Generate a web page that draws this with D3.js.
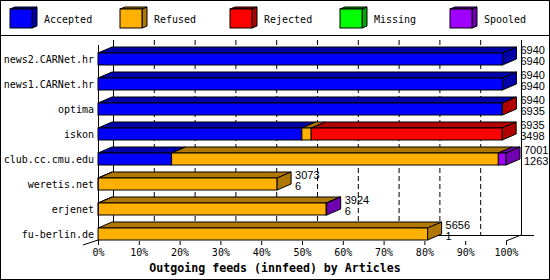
<!DOCTYPE html>
<html>
<head>
<meta charset="utf-8">
<script src="https://cdn.jsdelivr.net/npm/d3@7"></script>
<style>
  body { margin: 0; background: #fff; }
  svg { display: block; }
  text { font-family: "DejaVu Sans Mono", monospace; font-size: 10px; fill: #000; }
  .val { font-family: "Liberation Sans", Arial, sans-serif; font-size: 11px; }
  .title { font-weight: bold; font-size: 11.6px; }
</style>
</head>
<body>
<script>
// feeds, top to bottom
var feeds = ["news2.CARNet.hr", "news1.CARNet.hr", "optima", "iskon",
             "club.cc.cmu.edu", "weretis.net", "erjenet", "fu-berlin.de"];
var offered  = [6940, 6940, 6940, 6935, 7001, 3073, 3924, 5656];
var accepted = [6940, 6940, 6935, 3498, 1263, 6, 6, 1];
var refused  = [0, 0, 0, 160, 5606, 3067, 3910, 5655];
var rejected = [0, 0, 5, 3277, 0, 0, 0, 0];
var missing  = [0, 0, 0, 0, 0, 0, 0, 0];
var spooled  = [0, 0, 0, 0, 132, 0, 8, 0];
var seriesNames = ["Accepted", "Refused", "Rejected", "Missing", "Spooled"];
var tickValues = [0, 10, 20, 30, 40, 50, 60, 70, 80, 90, 100];

var colors = ["#0000ff", "#ffb000", "#ff0000", "#00ff00", "#a000ff"];
var darks  = ["#0000a8", "#b07800", "#b00000", "#00a800", "#7000b0"];

var W = 550, H = 280;
var svg = d3.select("body").append("svg").attr("width", W).attr("height", H);

// frame + legend box
svg.append("rect").attr("x", 0.5).attr("y", 0.5).attr("width", W - 1).attr("height", H - 1)
  .attr("fill", "#fff").attr("stroke", "#000");
svg.append("line").attr("x1", 0).attr("x2", W).attr("y1", 35.5).attr("y2", 35.5).attr("stroke", "#000");

// legend cubes
seriesNames.forEach(function(name, i) {
  var lx = 10 + i * 110, ly = 9, w = 22, h = 19, dx = 5, dy = 2;
  var g = svg.append("g");
  g.append("path")
    .attr("d", "M" + (lx + w) + "," + ly + "L" + (lx + w + dx) + "," + (ly - dy) +
      "L" + (lx + w + dx) + "," + (ly + h - dy) + "L" + (lx + w) + "," + (ly + h) + "Z")
    .attr("fill", darks[i]).attr("stroke", "#000");
  g.append("path")
    .attr("d", "M" + lx + "," + ly + "L" + (lx + dx) + "," + (ly - dy) +
      "L" + (lx + w + dx) + "," + (ly - dy) + "L" + (lx + w) + "," + ly + "Z")
    .attr("fill", darks[i]).attr("stroke", "#000");
  g.append("rect").attr("x", lx).attr("y", ly).attr("width", w).attr("height", h)
    .attr("fill", colors[i]).attr("stroke", "#000");
  g.append("text").attr("x", lx + 34).attr("y", 23).text(name);
});

var maxOffered = d3.max(offered);
var x = d3.scaleLinear().domain([0, 100]).range([98, 506]);
var y = d3.scaleBand().domain(feeds).range([46.5, 246.5]).paddingInner(0.52).paddingOuter(0.26);

var wdx = 15, wdy = 6;       // wall depth
var bdx = 14, bdy = 6;       // bar depth
var wallTop = 40, floorBack = 235, floorFront = 241;

// back wall grid lines
tickValues.forEach(function(t) {
  svg.append("line")
    .attr("x1", x(t) + wdx + 0.5).attr("x2", x(t) + wdx + 0.5)
    .attr("y1", wallTop).attr("y2", floorBack)
    .attr("stroke", "#000")
    .attr("stroke-dasharray", (t === 0 || t === 100) ? null : "5,3");
});
// back floor line
svg.append("line").attr("x1", x(0) + wdx).attr("x2", 534)
  .attr("y1", floorBack + 0.5).attr("y2", floorBack + 0.5).attr("stroke", "#000");
// floor edges
svg.append("line").attr("x1", x(100)).attr("y1", floorFront)
  .attr("x2", x(100) + wdx).attr("y2", floorBack).attr("stroke", "#000");
svg.append("line").attr("x1", 83).attr("y1", floorFront + 4)
  .attr("x2", x(0)).attr("y2", floorFront - 1).attr("stroke", "#000");
// front left axis
svg.append("line").attr("x1", x(0) + 0.5).attr("x2", x(0) + 0.5)
  .attr("y1", 45).attr("y2", floorFront).attr("stroke", "#000");

// bars
var series = [accepted, refused, rejected, missing, spooled];
feeds.forEach(function(f, i) {
  var top = y(f), h = y.bandwidth();
  var g = svg.append("g");
  var cum = 0, lastIdx = 0, endX = x(0);
  series.forEach(function(s, k) {
    var v = s[i];
    if (!v) return;
    var x0 = x(cum / maxOffered * 100);
    cum += v;
    var x1 = x(cum / maxOffered * 100);
    lastIdx = k; endX = x1;
    if (x1 - x0 < 0.3) return;
    g.append("path")
      .attr("d", "M" + x0 + "," + top + "L" + (x0 + bdx) + "," + (top - bdy) +
        "L" + (x1 + bdx) + "," + (top - bdy) + "L" + x1 + "," + top + "Z")
      .attr("fill", darks[k]).attr("stroke", "#000");
    g.append("rect").attr("x", x0).attr("y", top).attr("width", x1 - x0).attr("height", h)
      .attr("fill", colors[k]).attr("stroke", "#000");
  });
  g.append("path")
    .attr("d", "M" + endX + "," + top + "L" + (endX + bdx) + "," + (top - bdy) +
      "L" + (endX + bdx) + "," + (top + h - bdy) + "L" + endX + "," + (top + h) + "Z")
    .attr("fill", darks[lastIdx]).attr("stroke", "#000");

  svg.append("text").attr("x", 94).attr("y", top + 10).attr("text-anchor", "end").text(f);
  svg.append("text").attr("class", "val").attr("x", endX + bdx + 4).attr("y", top + 1).text(offered[i]);
  svg.append("text").attr("class", "val").attr("x", endX + bdx + 4).attr("y", top + 12).text(accepted[i]);
});

// bottom axis
var axis = d3.axisBottom(x).tickValues(tickValues).tickSize(4).tickPadding(4)
  .tickFormat(function(d) { return d + "%"; });
var ag = svg.append("g").attr("transform", "translate(0," + floorFront + ")").call(axis);
ag.select(".domain").remove();
ag.selectAll("text").attr("font-family", null).attr("font-size", null).attr("fill", "#000");
ag.selectAll("line").attr("stroke", "#000");

svg.append("text").attr("class", "title").attr("x", 275).attr("y", 272)
  .attr("text-anchor", "middle").text("Outgoing feeds (innfeed) by Articles");
</script>
</body>
</html>
